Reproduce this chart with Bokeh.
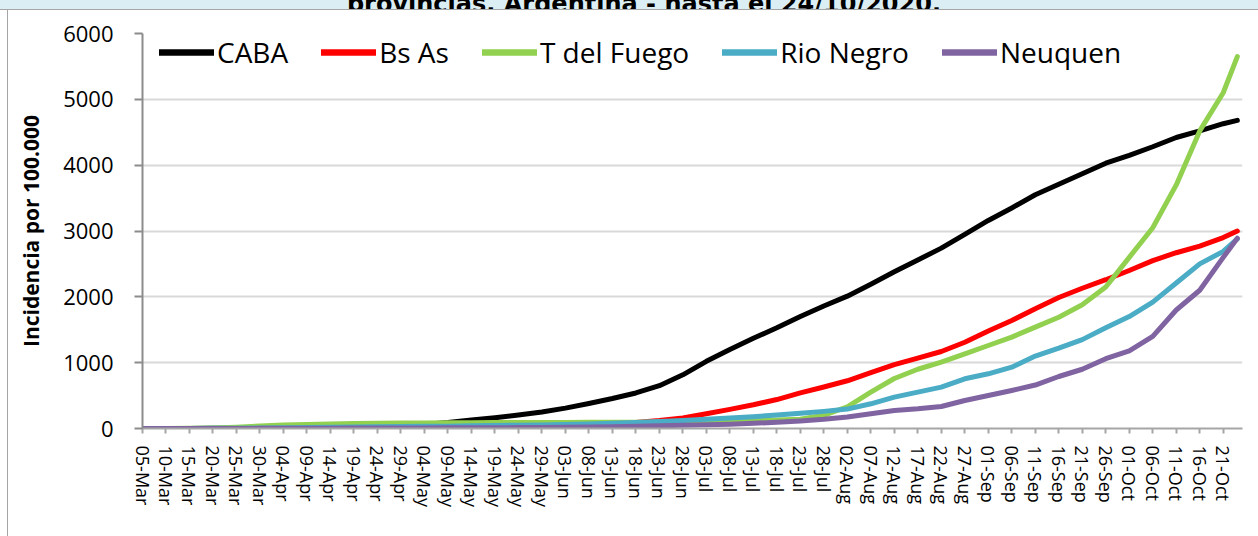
import pandas as pd
from bokeh.plotting import figure
from bokeh.layouts import column, row
from bokeh.models import Range1d, FixedTicker, DatetimeTickFormatter, Legend, Div
from bokeh.embed import file_html
from bokeh.resources import INLINE

# ---------------- data ----------------
dates = [
    "2020-03-05", "2020-03-10", "2020-03-15", "2020-03-20", "2020-03-25", "2020-03-30",
    "2020-04-04", "2020-04-09", "2020-04-14", "2020-04-19", "2020-04-24", "2020-04-29",
    "2020-05-04", "2020-05-09", "2020-05-14", "2020-05-19", "2020-05-24", "2020-05-29",
    "2020-06-03", "2020-06-08", "2020-06-13", "2020-06-18", "2020-06-23", "2020-06-28",
    "2020-07-03", "2020-07-08", "2020-07-13", "2020-07-18", "2020-07-23", "2020-07-28",
    "2020-08-02", "2020-08-07", "2020-08-12", "2020-08-17", "2020-08-22", "2020-08-27",
    "2020-09-01", "2020-09-06", "2020-09-11", "2020-09-16", "2020-09-21", "2020-09-26",
    "2020-10-01", "2020-10-06", "2020-10-11", "2020-10-16", "2020-10-21", "2020-10-24",
]
tick_dates = dates[:-1]

caba = [0, 0, 1, 2, 4, 7, 10, 15, 25, 30, 36, 45, 60, 90, 130, 165, 205, 250, 310, 380,
        455, 540, 650, 815, 1020, 1200, 1370, 1530, 1700, 1860, 2010, 2190, 2380, 2560,
        2740, 2950, 3160, 3350, 3550, 3710, 3870, 4030, 4150, 4280, 4420, 4520, 4630, 4680]
bs_as = [0, 0, 0, 0, 1, 1, 2, 3, 4, 5, 6, 8, 10, 12, 15, 19, 24, 31, 40, 50,
         65, 90, 120, 160, 225, 290, 360, 440, 540, 630, 725, 850, 970, 1070, 1170, 1310,
         1480, 1640, 1820, 1990, 2130, 2260, 2400, 2550, 2670, 2770, 2900, 3000]
t_fuego = [0, 0, 2, 8, 20, 38, 52, 62, 70, 75, 79, 82, 84, 86, 88, 90, 91, 92, 93, 94,
           95, 96, 98, 100, 105, 112, 118, 128, 140, 200, 330, 552, 760, 900, 1008, 1135,
           1261, 1388, 1540, 1690, 1880, 2150, 2600, 3050, 3700, 4520, 5100, 5650]
rio_negro = [0, 0, 1, 2, 4, 7, 10, 14, 18, 22, 26, 30, 33, 36, 40, 45, 50, 55, 62, 70,
             80, 92, 105, 120, 140, 160, 180, 205, 230, 260, 295, 375, 476, 552, 628, 755,
             831, 932, 1100, 1220, 1350, 1530, 1700, 1920, 2210, 2500, 2690, 2880]
neuquen = [0, 0, 0, 1, 1, 2, 3, 4, 5, 6, 7, 8, 9, 10, 11, 12, 14, 16, 19, 23,
           28, 34, 42, 50, 58, 66, 78, 95, 115, 140, 175, 223, 274, 299, 334, 426,
           502, 578, 660, 790, 900, 1060, 1180, 1400, 1800, 2100, 2600, 2890]

series_names = ["CABA", "Bs As", "T del Fuego", "Rio Negro", "Neuquen"]
series_values = [caba, bs_as, t_fuego, rio_negro, neuquen]
series_colors = ["#000000", "#ff0000", "#92d050", "#4bacc6", "#8064a2"]

y_ticks = [0, 1000, 2000, 3000, 4000, 5000, 6000]
title_text = "provincias. Argentina - hasta el 24/10/2020."
y_title = "Incidencia por 100.000"

# ---------------- figure ----------------
x = pd.to_datetime(dates)
x0 = pd.Timestamp("2020-03-05")
x1 = x0 + pd.Timedelta(days=234.1)

p = figure(width=1250, height=526, output_backend="svg", toolbar_location=None,
           x_axis_type="datetime",
           x_range=Range1d(x0.to_pydatetime(), x1.to_pydatetime()),
           y_range=Range1d(0, 6000),
           min_border_left=134, min_border_right=16,
           min_border_top=23, min_border_bottom=108)
p.margin = 0
p.background_fill_color = "white"
p.border_fill_color = "white"
p.outline_line_color = None

# grid
p.xgrid.visible = False
p.ygrid.ticker = FixedTicker(ticks=y_ticks)
p.ygrid.grid_line_color = "#d9d9d9"
p.ygrid.grid_line_width = 2

# y axis
p.yaxis.ticker = FixedTicker(ticks=y_ticks)
p.yaxis.axis_line_color = "#8c8c8c"
p.yaxis.axis_line_width = 2
p.yaxis.major_tick_line_color = "#8c8c8c"
p.yaxis.major_tick_line_width = 2
p.yaxis.major_tick_out = 8
p.yaxis.major_tick_in = 0
p.yaxis.minor_tick_line_color = None
p.yaxis.major_label_text_font = "Open Sans"
p.yaxis.major_label_text_font_size = "22px"
p.yaxis.major_label_text_color = "black"
p.yaxis.major_label_standoff = 21
p.yaxis.axis_label = y_title
p.yaxis.axis_label_text_font = "Open Sans"
p.yaxis.axis_label_text_font_style = "bold"
p.yaxis.axis_label_text_font_size = "21px"
p.yaxis.axis_label_text_color = "black"
p.yaxis.axis_label_standoff = 15

# x axis
tick_ms = [t.value / 1e6 for t in pd.to_datetime(tick_dates)]
p.xaxis.ticker = FixedTicker(ticks=tick_ms)
fmt = "%d-%b"
p.xaxis.formatter = DatetimeTickFormatter(days=fmt, months=fmt, years=fmt, hours=fmt,
                                          minutes=fmt, seconds=fmt, milliseconds=fmt,
                                          microseconds=fmt, hourmin=fmt, minsec=fmt)
p.xaxis.major_label_orientation = "vertical"
p.xaxis.axis_line_color = "#a6a6a6"
p.xaxis.axis_line_width = 2
p.xaxis.major_tick_line_color = "#a6a6a6"
p.xaxis.major_tick_line_width = 2
p.xaxis.major_tick_out = 5
p.xaxis.major_tick_in = 0
p.xaxis.minor_tick_line_color = None
p.xaxis.major_label_text_font = "Open Sans"
p.xaxis.major_label_text_font_size = "18px"
p.xaxis.major_label_text_color = "black"
p.xaxis.major_label_standoff = 12

# lines
items = []
for name, vals, col in zip(series_names, series_values, series_colors):
    p.line(x, vals, line_width=5, line_color=col, line_join="round", line_cap="round")
    # legend sample (slightly thicker stroke, as in the original legend)
    key = p.line(x[:1], vals[:1], line_width=6.5, line_color=col, line_cap="round")
    items.append((name, [key]))

legend = Legend(items=items, orientation="horizontal", location=(17, 357),
                label_text_font="Open Sans", label_text_font_size="28px",
                label_text_color="black", glyph_width=55, glyph_height=20,
                label_standoff=3, spacing=33, padding=0, margin=0,
                border_line_color=None, background_fill_alpha=0)
p.add_layout(legend)

# title strip (only the lower edge of the title is inside the picture)
band = Div(
    text=('<div style="width:1288px;text-align:center;white-space:nowrap;'
          "font-family:'DejaVu Sans';font-weight:bold;font-size:24px;line-height:24px;"
          'margin-top:-15px;color:#000;">' + title_text + "</div>"),
    width=1258, height=10, margin=0,
    styles={"background-color": "#dbeef4", "overflow": "hidden",
            "box-sizing": "border-box", "border-bottom": "1.5px solid #a6a6a6"})
left_edge = Div(text="", width=8, height=526, margin=0,
                styles={"box-sizing": "border-box", "border-right": "1.5px solid #a6a6a6",
                        "background-color": "white", "overflow": "hidden"})

layout = column(band, row(left_edge, p, spacing=0, margin=0), spacing=0, margin=0)

open("out.html", "w").write(file_html(layout, INLINE))
